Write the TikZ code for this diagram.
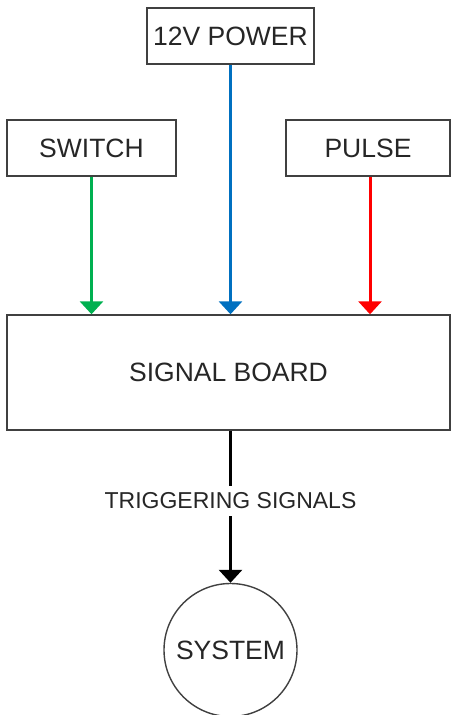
\documentclass[tikz,border=0pt]{standalone}
\usepackage{fontspec}
\setmainfont{Liberation Sans}
\usetikzlibrary{arrows.meta}
\definecolor{gline}{HTML}{00B050}
\definecolor{bline}{HTML}{0070C0}
\definecolor{rline}{HTML}{FF0000}
\definecolor{boxgray}{HTML}{404040}
\begin{document}
\begin{tikzpicture}[x=1pt,y=-1pt,
  box/.style={draw=boxgray,line width=1.4pt,fill=white,inner sep=0pt,text=black!85,font=\fontsize{26.5}{30}\selectfont},
  conn/.style={line width=3pt,-{Triangle[width=23pt,length=13pt]}}]
\useasboundingbox (0,0) rectangle (451,715);
\clip (0,0) rectangle (451,715);
\node[box,minimum width=167pt,minimum height=56pt] (power) at (230.5,36) {12V POWER};
\node[box,minimum width=169pt,minimum height=56pt] (switch) at (91.5,148) {SWITCH};
\node[box,minimum width=164pt,minimum height=56pt] (pulse) at (368,148) {PULSE};
\node[box,minimum width=443pt,minimum height=115pt] (board) at (228.5,372.5) {SIGNAL BOARD};
\node[box,circle,minimum size=133pt] (system) at (230.5,650) {SYSTEM};
\draw[conn,gline] (switch.south) -- (switch.south |- board.north);
\draw[conn,bline] (power.south) -- (power.south |- board.north);
\draw[conn,rline] ([xshift=2pt]pulse.south) -- ([xshift=2pt]pulse.south |- board.north);
\draw[conn,black] (board.south -| system.north) -- (system.north);
\node[fill=white,inner xsep=2pt,inner ysep=7pt,text=black!85,font=\fontsize{23}{26}\selectfont] (trig) at (230.5,501) {TRIGGERING SIGNALS};
\end{tikzpicture}
\end{document}
